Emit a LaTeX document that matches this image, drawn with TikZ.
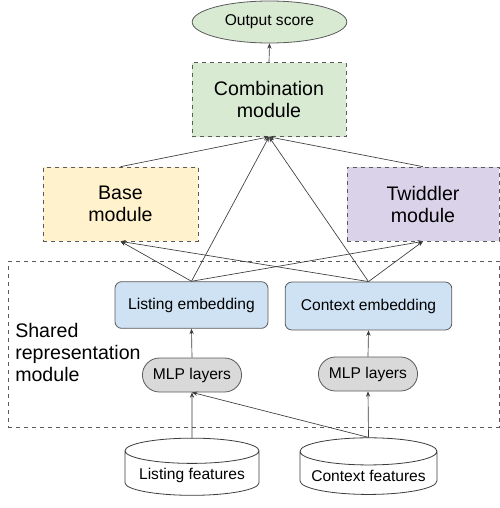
\documentclass[tikz,border=0pt]{standalone}
\usepackage{fontspec}
\setmainfont{Liberation Sans}
\usepackage{tikz}
\usetikzlibrary{
    positioning,
    arrows.meta,
    shapes.geometric,
    shapes.misc
}
\definecolor{lineGray}{RGB}{60, 60, 60}
\definecolor{edgeGray}{RGB}{90, 90, 90}
\definecolor{combGreen}{RGB}{217, 234, 211}
\definecolor{baseYellow}{RGB}{255, 242, 204}
\definecolor{twidPurple}{RGB}{217, 210, 233}
\definecolor{embBlue}{RGB}{207, 226, 243}
\definecolor{mlpGray}{RGB}{217, 217, 217}
\newcommand{\smalltext}{\fontsize{11.7}{14}\selectfont}
\newcommand{\bigtext}{\fontsize{14.7}{16.5}\selectfont}

\begin{document}
\begin{tikzpicture}[x=0.75pt, y=-0.75pt, >={Stealth[length=4pt, width=3.2pt]},
    module/.style={draw=edgeGray, dashed, line width=0.5pt, minimum height=55.5pt, align=center, font=\bigtext},
    embed/.style={draw=edgeGray, fill=embBlue, rounded corners=5pt, line width=0.6pt, minimum height=35pt, font=\smalltext},
    mlp/.style={draw=edgeGray, fill=mlpGray, rounded rectangle, line width=0.6pt, minimum width=81pt, minimum height=25.5pt, font=\smalltext},
    store/.style={draw=lineGray, cylinder, shape border rotate=90, aspect=0.22, line width=0.6pt, minimum height=37pt, font=\smalltext},
    link/.style={->, draw=lineGray, line width=0.5pt}
]
    \useasboundingbox (0,0) rectangle (500,508);

    % modules
    \node[draw=edgeGray, fill=combGreen, ellipse, line width=0.6pt, minimum width=116pt, minimum height=31.5pt, font=\smalltext] (out) at (269.5,22) {Output score};
    \node[module, fill=combGreen, minimum width=115.5pt] (comb) at (269,99.5) {Combination\\module};
    \node[module, fill=baseYellow, minimum width=116pt] (base) at (120.5,204) {Base\\module};
    \node[module, fill=twidPurple, minimum width=114pt] (twid) at (423,204) {Twiddler\\module};

    % shared representation
    \node[draw=edgeGray, dashed, line width=0.5pt, minimum width=368pt, minimum height=124.5pt] (shared) at (253.5,344) {};
    \node[anchor=west, align=left, font=\bigtext, inner sep=0pt] (sharedlbl) at (15,352) {Shared\\representation\\module};
    \node[embed, minimum width=114.75pt] (lemb) at (191.5,305) {Listing embedding};
    \node[embed, minimum width=125pt, minimum height=36pt] (cemb) at (368.5,306) {Context embedding};
    \node[mlp] (lmlp) at (192,375) {MLP layers};
    \node[mlp] (cmlp) at (368,374) {MLP layers};

    % inputs
    \node[store, minimum width=100.5pt] (lfeat) at (192,475.5) {Listing features};
    \node[store, minimum width=102.75pt] (cfeat) at (368.5,475.5) {Context features};

    \draw[link] (lfeat.north) -- (lmlp.south);
    \draw[link] (cfeat.north) -- (cmlp.south);
    \draw[link] (cfeat.north) -- (lmlp.south);
    \draw[link] (lmlp.north) -- (lemb.south);
    \draw[link] (cmlp.north) -- (cemb.south);
    \foreach \e in {lemb, cemb} {
        \draw[link] (\e.north) -- (base.south);
        \draw[link] (\e.north) -- (twid.south);
        \draw[link] (\e.north) -- (comb.south);
    }
    \draw[link] (base.north) -- (comb.south);
    \draw[link] (twid.north) -- (comb.south);
    \draw[link] (comb.north) -- (out.south);
\end{tikzpicture}
\end{document}
